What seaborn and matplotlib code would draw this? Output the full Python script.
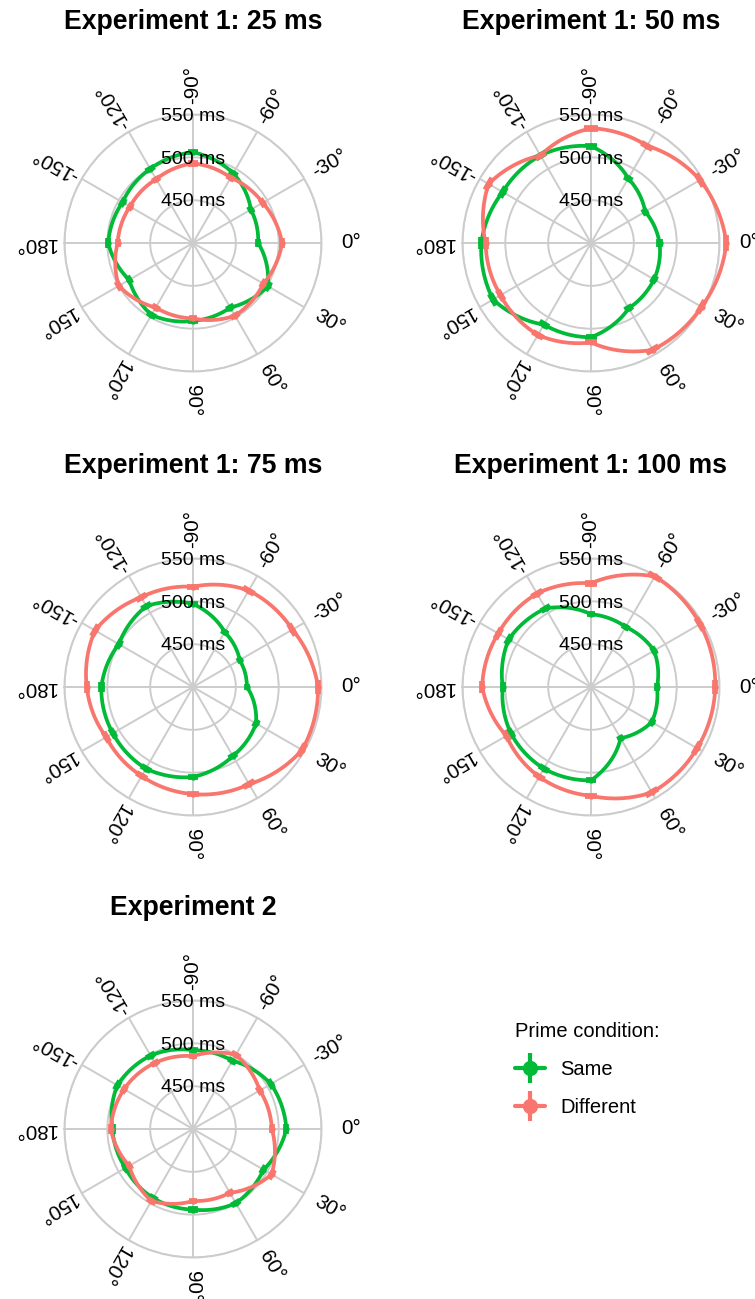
import numpy as np
import pandas as pd
import matplotlib
matplotlib.use("Agg")
import matplotlib.pyplot as plt
from matplotlib.lines import Line2D
from matplotlib.legend_handler import HandlerTuple
import seaborn as sns

# angles of the 12 stimulus positions (degrees)
angles = [-150, -120, -90, -60, -30, 0, 30, 60, 90, 120, 150, 180]

titles = ["Experiment 1: 25 ms", "Experiment 1: 50 ms",
          "Experiment 1: 75 ms", "Experiment 1: 100 ms", "Experiment 2"]

# mean RT (ms) per angle
same_rt = [
    [495, 500, 506, 494, 478, 476, 501, 487, 491, 497, 486, 499],
    [519, 518, 513, 487, 473, 480, 485, 488, 510, 510, 532, 528],
    [500, 509, 497, 474, 463, 463, 485, 493, 505, 510, 508, 507],
    [511, 506, 485, 481, 485, 477, 482, 469, 509, 510, 508, 503],
    [502, 499, 492, 492, 505, 509, 495, 500, 494, 493, 491, 494],
]
diff_rt = [
    [485, 486, 493, 488, 494, 504, 495, 498, 488, 487, 500, 488],
    [538, 518, 534, 531, 547, 558, 549, 544, 516, 524, 522, 523],
    [532, 521, 517, 530, 534, 546, 547, 531, 525, 520, 517, 524],
    [525, 526, 521, 549, 547, 545, 543, 542, 527, 521, 514, 527],
    [493, 489, 485, 500, 490, 492, 506, 486, 484, 497, 486, 496],
]
# standard errors (ms), one per panel
same_se = [1.3, 1.6, 1.3, 1.3, 1.3]
diff_se = [1.3, 1.3, 1.3, 1.3, 1.3]

conditions = ["Same", "Different"]
palette = {"Same": "#00BA38", "Different": "#F8766D"}

r_ticks = [450, 500, 550]
r_labels = ["450 ms", "500 ms", "550 ms"]

sns.set_theme(style="white")
plt.rcParams["font.family"] = ["Liberation Sans", "DejaVu Sans"]
plt.rcParams["text.color"] = "black"

W, H = 755, 1299
fig = plt.figure(figsize=(W / 100, H / 100), dpi=100)

centers = [(193, 243), (591, 243), (193, 687), (591, 687), (193, 1129)]
title_y = [22, 22, 466, 466, 908]
R = 128.5  # px radius of the 550 ms circle
grid_col = "#CCCCCC"

for i, (cx, cy) in enumerate(centers):
    ax = fig.add_axes([(cx - R) / W, 1 - (cy + R) / H, 2 * R / W, 2 * R / H],
                      projection="polar")
    ax.set_theta_zero_location("E")
    ax.set_theta_direction(-1)
    ax.set_facecolor("white")

    rows = []
    for cond, vals in (("Same", same_rt[i]), ("Different", diff_rt[i])):
        for a, v in zip(angles + [angles[0] + 360], vals + [vals[0]]):
            rows.append({"theta": np.deg2rad(a), "rt": v, "cond": cond})
    df = pd.DataFrame(rows)

    sns.lineplot(data=df, x="theta", y="rt", hue="cond", hue_order=conditions,
                 palette=palette, estimator=None, sort=False, lw=2.7,
                 legend=False, ax=ax, clip_on=False, zorder=3)
    # let matplotlib draw the segments as polar spirals, like coord_polar
    for ln in ax.lines:
        ln.get_path()._interpolation_steps = 40

    # error bars with tangential caps
    half_w = np.deg2rad(3.3)
    for cond, vals, se in (("Same", same_rt[i], same_se[i]),
                           ("Different", diff_rt[i], diff_se[i])):
        col = palette[cond]
        zo = 4 if cond == "Same" else 5
        for a, v in zip(angles, vals):
            t = np.deg2rad(a)
            ax.plot([t, t], [v - se, v + se], color=col, lw=2.7,
                    clip_on=False, zorder=zo, solid_capstyle="butt")
            for rr in (v - se, v + se):
                ax.plot([t - half_w, t + half_w], [rr, rr], color=col, lw=2.7,
                        clip_on=False, zorder=zo, solid_capstyle="butt")
        ax.plot(np.deg2rad(angles), vals, "o", color=col, ms=3.5,
                clip_on=False, zorder=zo)

    ax.set_thetalim(-np.pi, np.pi)
    ax.set_ylim(400, 550)
    ax.set_thetagrids(angles, labels=[])
    ax.set_rgrids(r_ticks, labels=[])
    ax.grid(True, color=grid_col, lw=1.4)
    ax.spines["polar"].set_color(grid_col)
    ax.spines["polar"].set_linewidth(1.4)
    ax.set_xlabel("")
    ax.set_ylabel("")

    for a in angles:
        ax.text(np.deg2rad(a), 584, f"{a}°", rotation=-a, rotation_mode="anchor",
                ha="center", va="center", fontsize=14.8, color="black")
    for rv, lab in zip(r_ticks, r_labels):
        ax.text(np.deg2rad(-90), rv - 2, lab, ha="center", va="center",
                fontsize=14, color="black", zorder=6)

    fig.text(cx / W, 1 - title_y[i] / H, titles[i], ha="center", va="center",
             fontsize=19.2, fontweight="bold", color="black")

handles = []
for cond in conditions:
    col = palette[cond]
    h1 = Line2D([], [], color=col, lw=3, marker="o", ms=10)
    h2 = Line2D([], [], color=col, lw=0, marker="|", ms=21, mew=3)
    handles.append((h1, h2))

leg = fig.legend(handles, conditions, title="Prime condition:",
                 handler_map={tuple: HandlerTuple(ndivide=1, pad=0)},
                 loc="upper left", bbox_to_anchor=(497 / W, 1 - 1004 / H),
                 frameon=False, fontsize=14.5, title_fontsize=14.5,
                 handlelength=1.5, handletextpad=0.75, labelspacing=0.95,
                 alignment="left")
for txt in leg.get_texts():
    txt.set_color("black")
leg.get_title().set_color("black")

fig.savefig("out.png", dpi=100)
